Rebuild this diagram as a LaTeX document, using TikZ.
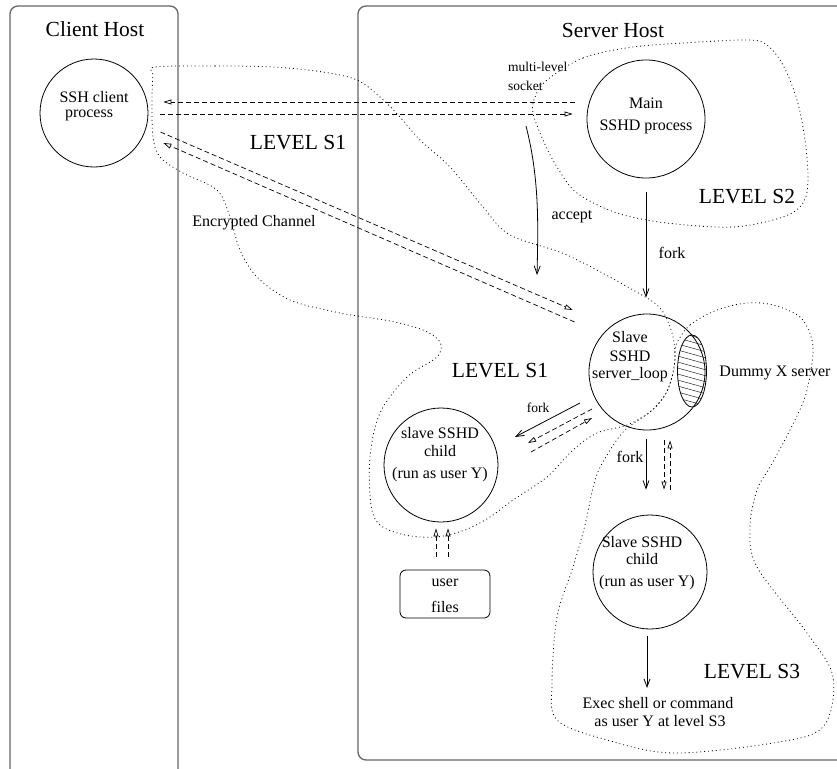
\documentclass[tikz,border=0pt]{standalone}
\usepackage{fontspec}
\setmainfont{Liberation Serif}
\usetikzlibrary{arrows.meta,calc}
\begin{document}
\begin{tikzpicture}[x=1pt,y=-1pt,
  hostbox/.style={draw=black!60,line width=1.3pt,rounded corners=8pt},
  proc/.style={draw,circle,line width=0.8pt,inner sep=0pt},
  big/.style={font=\fontsize{21.5}{24}\selectfont,inner sep=0pt},
  med/.style={font=\fontsize{16}{18}\selectfont,inner sep=0pt},
  tiny/.style={font=\fontsize{13.5}{15}\selectfont,inner sep=0pt},
  dsh/.style={line width=0.7pt,dash pattern=on 5pt off 3pt,-{Triangle[open,length=8pt,width=5pt]}},
  sol/.style={line width=0.8pt,-{Straight Barb[length=8pt,width=6pt]}},
  lvl/.style={line width=0.8pt,dash pattern=on 0.9pt off 3pt}]
\clip (0,0) rectangle (837,768);
\fill[white] (0,0) rectangle (837,768);

% host boxes
\draw[hostbox] (10,6) rectangle (178,800);
\draw[hostbox] (358,6) rectangle (870,760);
\node[big] (clienthost) at (95,29) {Client Host};
\node[big] (serverhost) at (613,30) {Server Host};

% level regions (dotted)
\draw[lvl] plot[smooth cycle,tension=0.55] coordinates {
 (155,67) (215,66) (273,67) (323,72) (357,80) (380,97) (400,117) (420,140)
 (450,167) (483,207) (510,235) (567,255) (633,290) (660,308) (672,333)
 (675,357) (672,377) (665,395) (650,412) (627,425) (597,433) (573,450)
 (547,477) (513,500) (490,517) (465,530) (436,537) (405,535) (380,525)
 (371,505) (370,457) (380,413) (407,377) (437,357) (440,342) (423,330)
 (390,321) (340,313) (290,300) (257,277) (240,250) (230,217) (217,190)
 (183,173) (160,157) (153,137) (152,100) (153,75)};
\draw[lvl] plot[smooth cycle,tension=0.55] coordinates {
 (547,80) (583,58) (633,47) (700,42) (750,40) (767,45) (783,65) (797,100)
 (805,140) (808,180) (803,203) (783,217) (733,227) (667,223) (617,213)
 (577,193) (557,167) (543,140) (533,113) (535,97)};
\draw[lvl] plot[smooth cycle,tension=0.55] coordinates {
 (676,345) (690,325) (717,310) (747,303) (773,305) (800,317) (812,340)
 (812,363) (805,397) (790,430) (770,467) (757,490) (750,527) (757,567)
 (807,633) (833,677) (823,727) (773,743) (673,753) (607,740) (557,720)
 (552,683) (557,617) (573,567) (585,525) (595,480) (607,455) (625,430)
 (650,412) (665,395) (672,377) (675,360)};

% processes
\node[proc,minimum size=108pt] (client) at (94,113) {};
\node[proc,minimum size=118pt] (main) at (646,119) {};
\node[proc,minimum size=116pt] (slave) at (647,372) {};
\node[proc,minimum size=114pt] (childL) at (441,465) {};
\node[proc,minimum size=114pt] (childB) at (650,572) {};
\node[draw,rounded corners=6pt,line width=0.8pt,minimum width=90pt,minimum height=48pt] (files) at (445,594) {};

% hatched dummy X server
\begin{scope}
\clip (692,371) ellipse [x radius=14.5, y radius=36];
\foreach \k in {-60,-54,...,60} \draw[line width=0.4pt] (674,{371+\k-4}) -- (710,{371+\k+6});
\end{scope}
\draw[line width=0.8pt] (692,371) ellipse [x radius=14.5, y radius=36];

% texts
\node[med] (t1) at (94,97) {SSH client};
\node[med] (t2) at (89,115) {process};
\node[med] (t3) at (646,103) {Main};
\node[med] (t4) at (646,127) {SSHD process};
\node[med] (t5) at (630,337) {Slave};
\node[med] (t6) at (630,356) {SSHD};
\node[med] (t7) at (630,375) {server\_loop};
\node[med] (t8) at (775,373) {Dummy X server};
\node[med] (t9) at (440,433) {slave SSHD};
\node[med] (t10) at (440,451) {child};
\node[med] (t11) at (440,475) {(run as user Y)};
\node[med] (t12) at (642,542) {Slave SSHD};
\node[med] (t13) at (642,559) {child};
\node[med] (t14) at (647,583) {(run as user Y)};
\node[med] (t15) at (445,583) {user};
\node[med] (t16) at (445,607) {files};
\node[med] (t17) at (658,703) {Exec shell or command};
\node[med] (t18) at (660,721) {as user Y at level S3};
\node[med] (t19) at (254,223) {Encrypted Channel};
\node[med] (t20) at (572,217) {accept};
\node[med] (t21) at (672,253) {fork};
\node[tiny] (t22) at (538,408) {fork};
\node[med] (t23) at (630,457) {fork};
\node[tiny,anchor=west] (t24) at (508,67) {multi-level};
\node[tiny,anchor=west] (t25) at (508,86) {socket};
\node[big] (l1) at (298,143) {LEVEL S1};
\node[big] (l2) at (500,371) {LEVEL S1};
\node[big] (l3) at (747,197) {LEVEL S2};
\node[big] (l4) at (752,672) {LEVEL S3};

% connectors
\draw[dsh] ($(main.west)+(-12,-17)$) -- ($(client.east)+(15,-11)$);
\draw[dsh] ($(client.east)+(12,1)$) -- ($(main.west)+(-14,-5)$);
\draw[dsh] ($(client.east)+(12,19)$) -- ($(slave.west)+(-16,-62)$);
\draw[dsh] ($(slave.west)+(-14,-50)$) -- ($(client.east)+(15,30)$);
\draw[sol] ($(main.south)+(0,14)$) -- ($(slave.north)+(-1,-16)$);
\coordinate (sock) at (526,126);
\coordinate (acc) at (537,275);
\draw[sol] (sock) .. controls (540,180) and (538,230) .. (acc);
\draw[sol] ($(slave.center)+(-67,31)$) -- ($(childL.center)+(74,-28)$);
\draw[dsh] ($(slave.center)+(-55,37)$) -- ($(childL.center)+(87,-22)$);
\draw[dsh] ($(childL.center)+(90,-13)$) -- ($(slave.center)+(-55,46)$);
\draw[sol] ($(slave.south)+(-1,9)$) -- ($(childB.north)+(-4,-25)$);
\draw[dsh] ($(slave.south)+(17,10)$) -- ($(childB.north)+(14,-25)$);
\draw[dsh] ($(childB.north)+(20,-25)$) -- ($(slave.south)+(23,10)$);
\coordinate (exectop) at (647,688);
\draw[sol] ($(childB.south)+(-3,7)$) -- (exectop);
\draw[dsh] ($(files.north)+(-9,-13)$) -- ($(childL.south)+(-5,6)$);
\draw[dsh] ($(files.north)+(3,-13)$) -- ($(childL.south)+(7,6)$);
\end{tikzpicture}
\end{document}
